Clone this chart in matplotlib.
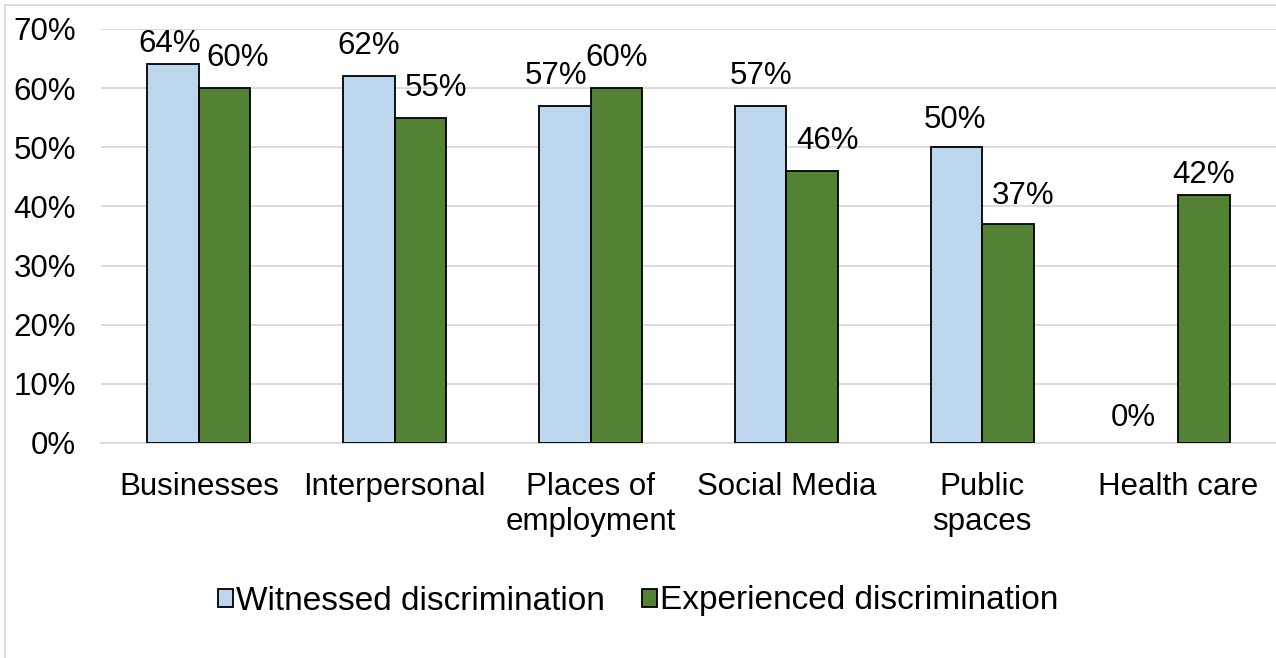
import numpy as np
import matplotlib.pyplot as plt
from matplotlib.lines import Line2D

categories = ["Businesses", "Interpersonal", "Places of\nemployment", "Social Media",
              "Public\nspaces", "Health care"]
witnessed = [64, 62, 57, 57, 50, 0]
experienced = [60, 55, 60, 46, 37, 42]
series_names = ["Witnessed discrimination", "Experienced discrimination"]
y_ticks = [0, 10, 20, 30, 40, 50, 60, 70]

# label nudges in pixels (dx, dy), label sits 30px above bar top by default
nudge_w = [(-4, -10), (0, 0), (-9, 0), (0, 0), (-2, -3), (-19, -5)]
nudge_e = [(13, 0), (15, 0), (0, 0), (15, 0), (15, -2), (0, -10)]

plt.rcParams['font.family'] = ['Liberation Sans', 'DejaVu Sans']
FS = 22.5

fig = plt.figure(figsize=(12.76, 6.58), dpi=100)
ax = fig.add_axes([101 / 1276, 1 - 443 / 658, 1 - 101 / 1276, (443 - 29) / 658])

x = np.arange(len(categories))
w = 0.263
bars_w = ax.bar(x - w / 2, witnessed, w, color="#bdd7ee", edgecolor="black", linewidth=1.3,
                label=series_names[0], zorder=3)
bars_e = ax.bar(x + w / 2, experienced, w, color="#548235", edgecolor="black", linewidth=1.3,
                label=series_names[1], zorder=3)
for b, v in zip(list(bars_w) + list(bars_e), witnessed + experienced):
    if v == 0:
        b.set_linewidth(0)

px = 0.72
for bars, vals, nudges in [(bars_w, witnessed, nudge_w), (bars_e, experienced, nudge_e)]:
    for b, v, (dx, dy) in zip(bars, vals, nudges):
        ax.annotate(f"{v}%", (b.get_x() + b.get_width() / 2, v),
                    xytext=(dx * px, (30 + dy) * px), textcoords="offset points",
                    ha="center", va="center", fontsize=FS)

ax.set_xlim(-0.5, len(categories) - 0.5)
ax.set_ylim(0, 70)
ax.set_yticks(y_ticks)
ax.set_yticklabels([f"{t}%" for t in y_ticks], fontsize=FS)
ax.set_xticks(x)
ax.set_xticklabels(categories, fontsize=FS, linespacing=1.2)
ax.tick_params(axis="both", length=0)
ax.tick_params(axis="y", pad=25 * px)
ax.tick_params(axis="x", pad=29 * px)
ax.grid(axis="y", color="#d9d9d9", linewidth=1.3, zorder=0)
for s in ["top", "right", "left"]:
    ax.spines[s].set_visible(False)
ax.spines["bottom"].set_color("#d9d9d9")
ax.spines["bottom"].set_linewidth(1.3)
ax.set_facecolor("none")

leg = fig.legend(handles=[bars_w, bars_e], labels=series_names, loc="center",
                 bbox_to_anchor=(0.5, 1 - 601 / 658), ncol=2, frameon=False, fontsize=24,
                 handlelength=0.45, handleheight=0.45, handletextpad=0.1, columnspacing=1.1)

# outer chart border
fig.add_artist(Line2D([5 / 1276, 5 / 1276], [0, 1 - 5 / 658], color="#d9d9d9", linewidth=1.3))
fig.add_artist(Line2D([5 / 1276, 1], [1 - 5 / 658, 1 - 5 / 658], color="#d9d9d9", linewidth=1.3))

fig.savefig("out.png", dpi=100)
